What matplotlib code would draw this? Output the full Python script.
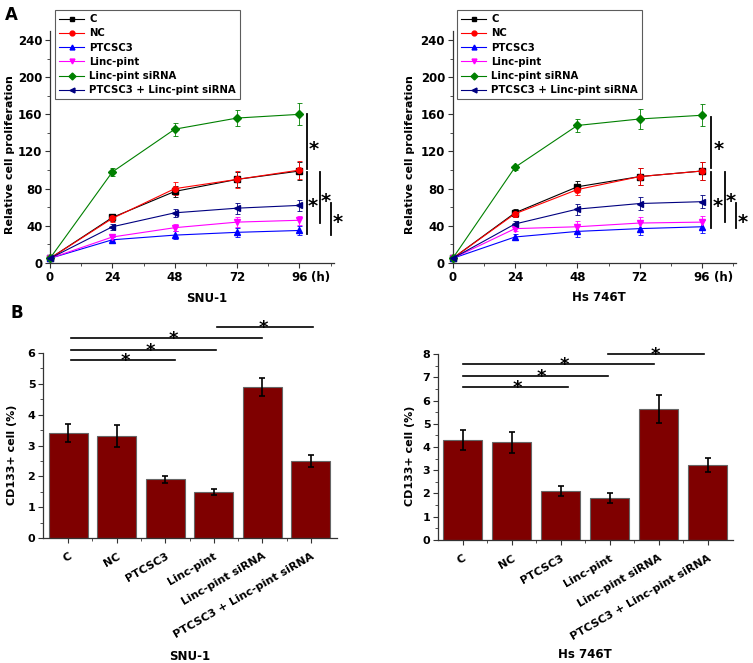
import matplotlib
matplotlib.use("Agg")
import matplotlib.pyplot as plt
from matplotlib.lines import Line2D
from matplotlib.ticker import MultipleLocator

plt.rcParams['font.family'] = ['DejaVu Sans']
plt.rcParams['font.weight'] = 'bold'

# --- panel A: proliferation curves ---
hours = [0, 24, 48, 72, 96]
groups = ["C", "NC", "PTCSC3", "Linc-pint", "Linc-pint siRNA", "PTCSC3 + Linc-pint siRNA"]

snu_mean = {
    "C": [5, 49, 77, 90, 99],
    "NC": [5, 48, 80, 90, 100],
    "PTCSC3": [5, 25, 30, 33, 35],
    "Linc-pint": [5, 28, 38, 44, 46],
    "Linc-pint siRNA": [5, 98, 144, 156, 160],
    "PTCSC3 + Linc-pint siRNA": [5, 39, 54, 59, 62],
}
snu_err = {
    "C": [1, 4, 6, 8, 10],
    "NC": [1, 4, 7, 9, 10],
    "PTCSC3": [1, 3, 4, 5, 5],
    "Linc-pint": [1, 3, 4, 5, 5],
    "Linc-pint siRNA": [1, 4, 7, 9, 12],
    "PTCSC3 + Linc-pint siRNA": [1, 3, 4, 6, 6],
}
hs_mean = {
    "C": [5, 54, 82, 93, 99],
    "NC": [5, 53, 79, 93, 99],
    "PTCSC3": [5, 28, 34, 37, 39],
    "Linc-pint": [5, 37, 39, 43, 44],
    "Linc-pint siRNA": [5, 103, 148, 155, 159],
    "PTCSC3 + Linc-pint siRNA": [5, 42, 58, 64, 66],
}
hs_err = {
    "C": [1, 4, 6, 9, 10],
    "NC": [1, 4, 6, 9, 10],
    "PTCSC3": [1, 3, 6, 7, 7],
    "Linc-pint": [1, 3, 6, 7, 7],
    "Linc-pint siRNA": [1, 3, 7, 11, 12],
    "PTCSC3 + Linc-pint siRNA": [1, 3, 6, 7, 7],
}
line_colors = ["#000000", "#ff0000", "#0000ff", "#ff00ff", "#008000", "#000080"]
line_markers = ["s", "o", "^", "v", "D", "<"]

# vertical significance bars: (x, y_low, y_high, star_x, star_y)
snu_sig = [(98.8, 101.5, 160, 101.3, 129), (98.8, 31.6, 98, 101.0, 67),
           (103.9, 43, 98, 106.2, 73), (108.1, 30.5, 64.6, 110.8, 50)]
hs_sig = [(99.6, 101.8, 157.5, 102.3, 129), (99.6, 38.2, 98.2, 101.9, 67),
          (104.7, 43.6, 98.2, 107.2, 73), (109.1, 38.2, 65, 111.7, 50)]

# --- panel B: CD133+ cells ---
snu_cd133 = [3.4, 3.3, 1.9, 1.5, 4.9, 2.5]
snu_cd133_err = [0.3, 0.35, 0.1, 0.1, 0.3, 0.2]
hs_cd133 = [4.3, 4.2, 2.1, 1.8, 5.65, 3.22]
hs_cd133_err = [0.45, 0.45, 0.2, 0.22, 0.6, 0.3]

# horizontal significance lines: (x_start, x_end, y, star_x)
snu_bar_sig = [(1.05, 3.2, 5.76, 2.18), (1.05, 4.05, 6.11, 2.69),
               (1.05, 5.0, 6.48, 3.16), (4.07, 6.05, 6.84, 5.02)]
hs_bar_sig = [(1.0, 3.15, 6.6, 2.12), (1.0, 3.96, 7.06, 2.61),
              (1.0, 4.9, 7.56, 3.08), (3.97, 5.93, 8.03, 4.93)]

W, H = 753, 663
fig = plt.figure(figsize=(W / 100, H / 100), dpi=100)


def px_axes(x0, x1, ytop, ybot):
    return fig.add_axes([x0 / W, 1 - ybot / H, (x1 - x0) / W, (ybot - ytop) / H])


def style_axes(ax, size):
    for side in ("top", "right"):
        ax.spines[side].set_visible(False)
    for side in ("left", "bottom"):
        ax.spines[side].set_color("#333333")
        ax.spines[side].set_linewidth(0.9)
    ax.tick_params(which="major", direction="out", length=3.5, width=0.8,
                   color="#333333", labelsize=size, pad=2)
    ax.tick_params(which="minor", direction="out", length=2, width=0.6, color="#333333")


def star(ax, x, y, fs, dy_pts=0.0):
    # put the visible centre of the asterisk glyph at (x, y)
    ax.annotate("*", (x, y), xytext=(0, dy_pts - 0.60 * fs), textcoords="offset points",
                fontsize=fs, ha="center", va="baseline", annotation_clip=False)


def draw_curves(ax, means, errs, sig, xmax, legend_x0):
    handles = []
    for g, c, m in zip(groups, line_colors, line_markers):
        ax.errorbar(hours, means[g], yerr=errs[g], color=c, marker=m, markersize=4,
                    linewidth=0.8, elinewidth=0.6, capsize=1.8, capthick=0.6,
                    clip_on=False, zorder=3)
        handles.append(Line2D([], [], color=c, marker=m, markersize=3.5,
                              linewidth=0.8, label=g))
    ax.set_xlim(0, xmax)
    ax.set_ylim(0, 250)
    ax.set_xticks(hours)
    ax.xaxis.set_minor_locator(MultipleLocator(12))
    ax.set_yticks(range(0, 241, 40))
    ax.yaxis.set_minor_locator(MultipleLocator(20))
    style_axes(ax, 8.5)
    for x, y0, y1, sx, sy in sig:
        ax.plot([x, x], [y0, y1], color="black", linewidth=1.3, clip_on=False)
        star(ax, sx, sy, 14)
    ax.text(104.3, -0.062, "(h)", transform=ax.get_xaxis_transform(),
            fontsize=8.5, ha="center", va="center")
    leg = fig.legend(handles=handles, loc="upper left",
                     bbox_to_anchor=(legend_x0 / W, 1 - 10 / H), fontsize=7.3,
                     frameon=True, fancybox=False, edgecolor="#333333",
                     handlelength=2.5, handletextpad=0.5, labelspacing=0.42,
                     borderpad=0.4, borderaxespad=0)
    leg.get_frame().set_linewidth(0.8)
    for t in leg.get_texts():
        t.set_fontweight("bold")


def draw_bars(ax, vals, errs, sig, xlim, ymax):
    pos = list(range(1, len(groups) + 1))
    ax.bar(pos, vals, width=0.8, color="#7f0000", edgecolor="#666666", linewidth=0.8)
    ax.errorbar(pos, vals, yerr=errs, fmt="none", ecolor="black", elinewidth=1.2,
                capsize=2.2, capthick=1.2)
    ax.set_xlim(*xlim)
    ax.set_ylim(0, ymax)
    ax.set_xticks(pos)
    ax.set_xticks([p + 0.5 for p in pos[:-1]], minor=True)
    ax.set_xticklabels(groups, rotation=30, ha="right", rotation_mode="anchor",
                       fontsize=8, fontweight="bold")
    ax.yaxis.set_major_locator(MultipleLocator(1))
    ax.yaxis.set_minor_locator(MultipleLocator(0.5))
    style_axes(ax, 8)
    ax.tick_params(axis="x", which="major", pad=6)
    for x0, x1, y, sx in sig:
        ax.plot([x0, x1], [y, y], color="black", linewidth=1.2, clip_on=False)
        star(ax, sx, y, 13, dy_pts=3.5)


# A left: SNU-1
ax1 = px_axes(50, 334.3, 30.7, 263)
draw_curves(ax1, snu_mean, snu_err, snu_sig, 109.4, 55)
# A right: Hs 746T
ax2 = px_axes(452.7, 736, 30.7, 263)
draw_curves(ax2, hs_mean, hs_err, hs_sig, 109.1, 457)

# B left / right
ax3 = px_axes(43, 337, 353, 538)
draw_bars(ax3, snu_cd133, snu_cd133_err, snu_bar_sig, (0.48, 6.54), 6)
ax4 = px_axes(438, 733.3, 354.3, 539.7)
draw_bars(ax4, hs_cd133, hs_cd133_err, hs_bar_sig, (0.5, 6.52), 8)


# labels placed in figure pixel positions
def ftext(x, y, s, **kw):
    fig.text(x / W, 1 - y / H, s, ha="center", va="center", fontweight="bold", **kw)


ftext(11, 14.5, "A", fontsize=12)
ftext(17, 312.5, "B", fontsize=12)
ftext(207, 299, "SNU-1", fontsize=8.5)
ftext(599, 297.5, "Hs 746T", fontsize=8.5)
ftext(190, 656, "SNU-1", fontsize=8.5)
ftext(585, 654, "Hs 746T", fontsize=8.5)
ftext(10, 155, "Relative cell proliferation", fontsize=8, rotation=90)
ftext(410, 155, "Relative cell proliferation", fontsize=8, rotation=90)
ftext(12, 455, "CD133+ cell (%)", fontsize=8, rotation=90)
ftext(410, 456, "CD133+ cell (%)", fontsize=8, rotation=90)

fig.savefig("out.png", dpi=100)
